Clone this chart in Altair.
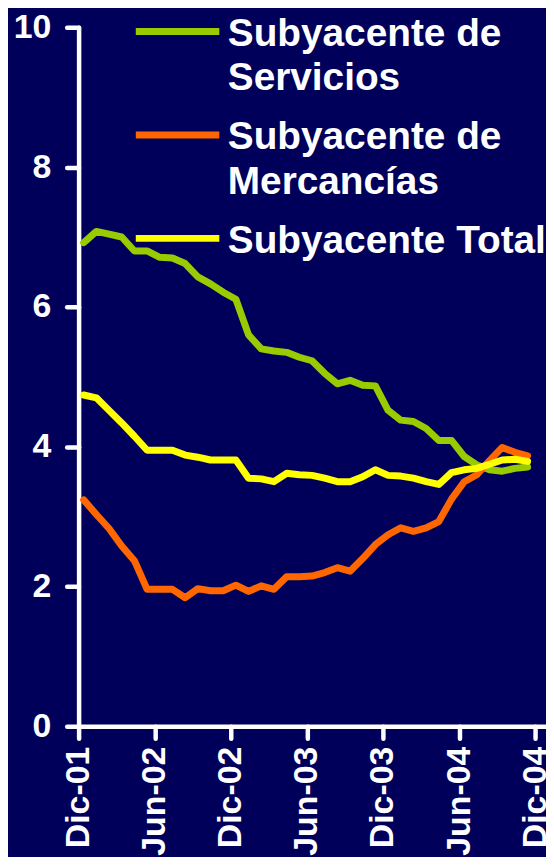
import altair as alt
import pandas as pd

# Month categories (Dic-01 .. Nov-04)
months = ["Dic-01", "Ene-02", "Feb-02", "Mar-02", "Abr-02", "May-02", "Jun-02", "Jul-02",
          "Ago-02", "Sep-02", "Oct-02", "Nov-02", "Dic-02", "Ene-03", "Feb-03", "Mar-03",
          "Abr-03", "May-03", "Jun-03", "Jul-03", "Ago-03", "Sep-03", "Oct-03", "Nov-03",
          "Dic-03", "Ene-04", "Feb-04", "Mar-04", "Abr-04", "May-04", "Jun-04", "Jul-04",
          "Ago-04", "Sep-04", "Oct-04", "Nov-04"]

servicios = [6.92, 7.08, 7.04, 7.00, 6.80, 6.80, 6.71, 6.70, 6.62, 6.43, 6.33, 6.21,
             6.11, 5.60, 5.40, 5.37, 5.35, 5.28, 5.23, 5.05, 4.90, 4.95, 4.88, 4.87,
             4.52, 4.38, 4.36, 4.26, 4.09, 4.09, 3.86, 3.74, 3.67, 3.65, 3.69, 3.71]
mercancias = [3.24, 3.03, 2.83, 2.58, 2.37, 1.96, 1.96, 1.96, 1.84, 1.97, 1.94, 1.94,
              2.02, 1.93, 2.01, 1.96, 2.14, 2.14, 2.15, 2.20, 2.27, 2.22, 2.40, 2.60,
              2.74, 2.84, 2.79, 2.84, 2.93, 3.25, 3.50, 3.60, 3.80, 3.99, 3.92, 3.87]
total = [4.74, 4.70, 4.52, 4.34, 4.15, 3.95, 3.95, 3.95, 3.88, 3.85, 3.81, 3.81,
         3.81, 3.55, 3.54, 3.50, 3.62, 3.60, 3.59, 3.55, 3.50, 3.50, 3.57, 3.67,
         3.59, 3.58, 3.55, 3.50, 3.46, 3.63, 3.67, 3.69, 3.75, 3.81, 3.82, 3.79]

series_names = ["Subyacente de Servicios", "Subyacente de Mercancías", "Subyacente Total"]
series_lines = [["Subyacente de", "Servicios"], ["Subyacente de", "Mercancías"], ["Subyacente Total"]]
series_colors = ["#99CC00", "#FF6600", "#FFFF00"]

tick_labels = ["Dic-01", "Jun-02", "Dic-02", "Jun-03", "Dic-03", "Jun-04", "Dic-04"]
tick_values = [0, 6, 12, 18, 24, 30, 36]

rows = []
for name, vals in zip(series_names, [servicios, mercancias, total]):
    for i, (m, v) in enumerate(zip(months, vals)):
        rows.append({"serie": name, "mes": m, "i": i, "valor": v})
df = pd.DataFrame(rows)

label_expr_x = "[" + ",".join("'%s'" % t for t in tick_labels) + "][datum.value / 6]"
legend_expr = ""
for name, lines in zip(series_names, series_lines):
    arr = "[" + ",".join("'%s'" % l for l in lines) + "]"
    legend_expr += "datum.label == '%s' ? %s : " % (name, arr)
legend_expr += "datum.label"

FONT = "Liberation Sans"

chart = alt.Chart(df).transform_calculate(
    pos="datum.i + 0.4"
).mark_line(strokeWidth=7, strokeJoin="round", strokeCap="round").encode(
    x=alt.X("pos:Q",
            scale=alt.Scale(domain=[0, 36.85], nice=False, zero=False),
            axis=alt.Axis(values=tick_values, labelExpr=label_expr_x, labelAngle=270,
                          title=None, grid=False, tickSize=12, labelPadding=8)),
    y=alt.Y("valor:Q",
            scale=alt.Scale(domain=[0, 10], nice=False),
            axis=alt.Axis(values=[0, 2, 4, 6, 8, 10], title=None, grid=False,
                          tickSize=12, labelPadding=16)),
    color=alt.Color("serie:N",
                    scale=alt.Scale(domain=series_names, range=series_colors),
                    sort=series_names,
                    legend=alt.Legend(title=None, orient="none", legendX=80, legendY=-32,
                                      symbolType="M-10.5,4.2H10.5", symbolSize=64,
                                      symbolStrokeWidth=7, labelExpr=legend_expr,
                                      labelFontSize=39, labelFont=FONT,
                                      labelFontWeight="bold", labelColor="white",
                                      labelLimit=500, labelOffset=31, labelBaseline="top",
                                      rowPadding=-16, padding=0)),
    order=alt.Order("i:Q"),
).properties(
    width=470, height=703,
    background="#00005a",
    autosize=alt.AutoSizeParams(type="none"),
    padding={"left": 71, "top": 17, "right": 0, "bottom": 129},
).configure(
    style={"guide-label": {"lineHeight": 45}}
).configure_view(
    stroke=None
).configure_axis(
    domainColor="white", domainWidth=4.5, domainCap="round",
    tickColor="white", tickWidth=4.5, tickCap="round",
    labelColor="white", labelFont=FONT, labelFontWeight="bold", labelFontSize=34,
)

chart.save("out.html", embed_options={"renderer": "svg", "actions": False})
